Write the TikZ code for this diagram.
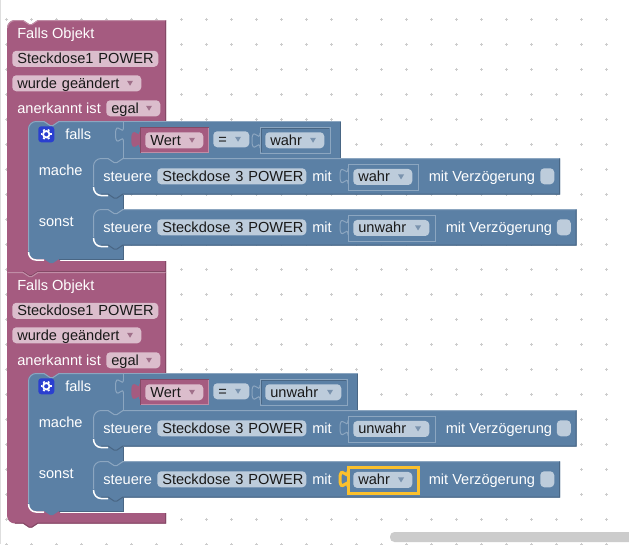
\documentclass[tikz,border=0pt]{standalone}
\usepackage{fontspec}
\setmainfont{Liberation Sans}
\definecolor{rosa}{HTML}{A55B80}
\definecolor{rosaHell}{HTML}{C08DA6}
\definecolor{rosaDunkel}{HTML}{844966}
\definecolor{rosaFeld}{HTML}{DBBDCC}
\definecolor{rosaPfeil}{HTML}{A0708A}
\definecolor{blau}{HTML}{5B80A5}
\definecolor{blauHell}{HTML}{8CA6C0}
\definecolor{blauDunkel}{HTML}{496684}
\definecolor{blauFeld}{HTML}{BDCCDB}
\definecolor{blauPfeil}{HTML}{7A93AE}
\definecolor{gelb}{HTML}{FBC02D}
\definecolor{gitter}{HTML}{CCCCCC}
\definecolor{zahnrad}{HTML}{2A3FD0}
\newlength{\pxu}
\setlength{\pxu}{0.75pt}
\tikzset{
  linie/.style={line width=\pxu},
  kreuz/.style={linie, gitter},
  wort/.style={anchor=base west, inner sep=0pt, text=white, font=\fontsize{10.95pt}{12pt}\selectfont},
  feld/.style={anchor=north west, inner xsep=5\pxu, inner ysep=\pxu,
    rounded corners=4\pxu, align=left, text=black!90,
    text height=9pt, text depth=1.5pt, font=\fontsize{10.95pt}{12pt}\selectfont},
  feldRosa/.style={feld, fill=rosaFeld},
  feldBlau/.style={feld, fill=blauFeld},
  haken/.style={anchor=north west, fill=blauFeld, rounded corners=4\pxu, inner sep=0pt,
    minimum width=14\pxu, minimum height=16\pxu},
  schlitz/.style={draw=blauHell, linie},
  schlitzGelb/.style={draw=gelb, line width=3\pxu},
  lasche/.pic={
    \path[pic actions] (0,0) .. controls (0,10) and (-8,-8) .. (-8,7.5)
      .. controls (-8,23) and (0,5) .. (0,15);
  },
}
% feld mit breite, optional mit pfeil
\newcommand{\feldNode}[6]{%
  \pgfmathsetlengthmacro{\feldBreite}{(#5-10)*\pxu}%
  \node[#1, text width=\feldBreite] (#2) at (#3,#4) {\mbox{#6}};%
}
\newcommand{\pfeilAn}[2]{%
  \fill[#2] ([xshift=-14.5\pxu,yshift=2.5\pxu]#1.east) -- ++(6,0) -- ++(-3,5) -- cycle;%
}
% steuere-block: name, y, rechts, schlitz rechts, wert, schlitz-stil
\newcommand{\steuereBlock}[6]{%
  \fill[blau] (93,#2+8) .. controls (93,#2+3.6) and (96.6,#2) .. (101,#2) -- (108,#2)
    -- (114,#2+4) -- (117,#2+4) -- (123,#2) -- (#3,#2) -- (#3,#2+36.5) -- (123,#2+36.5)
    -- (117,#2+40.5) -- (114,#2+40.5) -- (108,#2+36.5) -- (101,#2+36.5)
    .. controls (96.6,#2+36.5) and (93,#2+32.9) .. (93,#2+28.5) -- cycle;
  \draw[linie, blauHell] (93.5,#2+28) -- (93.5,#2+8) .. controls (93.5,#2+4) and (97,#2+.5) .. (101,#2+.5)
    -- (108,#2+.5) -- (114,#2+4.5) -- (117,#2+4.5) -- (123,#2+.5) -- (#3-.5,#2+.5);
  \draw[linie, blauDunkel] (#3-.5,#2+.5) -- (#3-.5,#2+36) -- (123,#2+36)
    -- (117,#2+40) -- (114,#2+40) -- (108,#2+36) -- (101,#2+36);
  \draw[white, line width=1.5\pxu] (93.5,#2+29) .. controls (93.5,#2+34) and (97,#2+37.5) .. (101,#2+37.5) -- (108,#2+37.5);
  \node[wort] (#1wort) at (103,#2+23.5) {steuere};
  \feldNode{feldBlau}{#1objekt}{157}{#2+10}{149}{Steckdose 3 POWER}
  \node[wort] (#1mit) at (312,#2+23.5) {mit};
  \draw[#6] (348,#2+6) rectangle (#4,#2+32);
  \pic[#6] at (348,#2+10.5) {lasche};
  \feldNode{feldBlau}{#1wert}{353}{#2+10.7}{#4-359}{#5}
  \pfeilAn{#1wert}{blauPfeil}
  \node[wort] (#1verz) at (#4+10.5,#2+23.5) {mit Verzögerung};
  \node[haken] (#1haken) at (#3-20,#2+10) {};
}
% innenleben eines falls-objekt-blocks: name, oben, wert, schlitz rechts
\newcommand{\objektInhalt}[4]{%
  \begin{scope}[shift={(0,#2)}, name prefix=#1-]
    \node[wort] (titel) at (17,38) {Falls Objekt};
    \feldNode{feldRosa}{objekt}{12}{50.5}{146}{Steckdose1 POWER}
    \feldNode{feldRosa}{ereignis}{12}{75}{129}{wurde geändert}
    \pfeilAn{ereignis}{rosaPfeil}
    \node[wort] (anerkannt) at (17,113) {anerkannt ist};
    \feldNode{feldRosa}{egal}{106}{100}{54}{egal}
    \pfeilAn{egal}{rosaPfeil}
    % falls-spalte
    \fill[blau] (28,129) .. controls (28,124.6) and (31.6,121) .. (36,121) -- (44,121) -- (50,125) -- (53,125)
      -- (59,121) -- (123,121) -- (123,259) -- (59,259) -- (53,263) -- (50,263) -- (44,259) -- (36,259)
      .. controls (31.6,259) and (28,255.4) .. (28,251) -- cycle;
    \draw[white, line width=1.5\pxu] (28.5,252) .. controls (28.5,256.5) and (31.6,260) .. (36,260) -- (44,260);
    \draw[linie, blauDunkel] (123.5,194.5) -- (123.5,259) -- (59,259);
    \draw[linie, blauHell] (28.5,251) -- (28.5,129) .. controls (28.5,125) and (32,121.5) .. (36,121.5) -- (44,121.5)
      -- (50,125.5) -- (53,125.5) -- (59,121.5) -- (123,121.5);
    \node[anchor=north west, fill=zahnrad, rounded corners=3\pxu, inner sep=0pt,
      minimum width=16\pxu, minimum height=16\pxu] (zahnrad) at (38,126) {};
    \draw[white, line width=1.8\pxu] (zahnrad.center) circle[radius=3.2];
    \foreach \winkel in {0,60,...,300}
      \draw[white, line width=2\pxu] ([shift={(\winkel:4\pxu)}]zahnrad.center) -- ([shift={(\winkel:5.5\pxu)}]zahnrad.center);
    \node[wort] (falls) at (65,139) {falls};
    \node[wort] (mache) at (38.5,175) {mache};
    \node[wort] (sonst) at (38.5,226) {sonst};
    % vergleich
    \fill[blau] (123,121) rectangle (#4+11,158);
    \draw[linie, blauHell] (123,121.5) -- (#4+10.5,121.5);
    \draw[linie, blauDunkel] (#4+10.5,121.5) -- (#4+10.5,158);
    \draw[linie, blauHell] (123.5,121) -- (123.5,127) (123.5,142) -- (123.5,158);
    \pic[schlitz] at (123.5,127) {lasche};
    \fill[rosa] (140,127) rectangle (209,153);
    \pic[fill=rosa, draw=rosa, line width=1.5\pxu] at (140,132) {lasche};
    \draw[linie, rosaDunkel] (140.5,153) -- (140.5,127.5) -- (208.5,127.5);
    \draw[linie, rosaHell] (208.5,127.5) -- (208.5,152.5) -- (140.5,152.5);
    \feldNode{feldRosa}{wert}{145}{132}{58}{Wert}
    \pfeilAn{wert}{rosaPfeil}
    \feldNode{feldBlau}{gleich}{213}{131}{36}{=}
    \pfeilAn{gleich}{blauPfeil}
    \draw[schlitz] (260,127) rectangle (#4,153);
    \draw[linie, blauDunkel] (261,152) -- (261,128) -- (#4-1,128);
    \pic[schlitz] at (260,133) {lasche};
    \feldNode{feldBlau}{wahrheit}{265}{132}{#4-271}{#3}
    \pfeilAn{wahrheit}{blauPfeil}
  \end{scope}
}

\begin{document}
\begin{tikzpicture}[x=\pxu, y=-\pxu]
  \useasboundingbox (0,0) rectangle (629,544);
  \fill[white] (0,0) rectangle (629,544);
  \foreach \px in {6.5,31.5,...,629}
    \foreach \py in {19.3,44.3,...,546}
      \draw[kreuz] (\px-1.5,\py) -- (\px+1.5,\py) (\px,\py-1.5) -- (\px,\py+1.5);
  \draw[linie, black!13] (0.5,0) -- (0.5,544);
  \fill[gitter, rounded corners=4.5\pxu] (390,532) rectangle (650,542);

  % erster block
  \fill[rosa] (7,272) -- (7,28) .. controls (7,23.6) and (10.6,20) .. (15,20) -- (23,20) -- (29,24) -- (32,24)
    -- (38,20) -- (166,20) -- (166,121) -- (70,121) -- (70,240) -- (60,240) -- (60,261) -- (166,261) -- (166,272)
    -- (38,272) -- (32,276) -- (29,276) -- (23,272) -- cycle;
  \draw[linie, rosaHell] (7.5,28) .. controls (7.5,24) and (11,20.5) .. (15,20.5) -- (23,20.5) -- (29,24.5) -- (32,24.5) -- (38,20.5) -- (166,20.5);
  \draw[linie, rosaDunkel] (165.5,20.5) -- (165.5,121) (165.5,261) -- (165.5,271.5) -- (38,271.5) -- (32,275.5) -- (29,275.5) -- (23,271.5);
  \objektInhalt{a}{0}{wahr}{330}
  \steuereBlock{a1}{158}{560}{418}{wahr}{schlitz}
  \steuereBlock{a2}{209}{576.5}{435}{unwahr}{schlitz}

  % zweiter block
  \fill[rosa] (7,272) -- (23,272) -- (29,276) -- (32,276) -- (38,272) -- (166,272) -- (166,373) -- (70,373)
    -- (70,492) -- (60,492) -- (60,513) -- (166,513) -- (166,523.5) -- (38,523.5) -- (32,527.5) -- (29,527.5)
    -- (23,523.5) -- (15,523.5) .. controls (10.6,523.5) and (7,519.9) .. (7,515.5) -- cycle;
  \draw[linie, rosaHell] (7.5,272.5) -- (23,272.5) -- (29,276.5) -- (32,276.5) -- (38,272.5) -- (166,272.5);
  \draw[linie, rosaDunkel] (165.5,272.5) -- (165.5,373) (165.5,513) -- (165.5,523) -- (38,523) -- (32,527) -- (29,527) -- (23,523) -- (15,523);
  \objektInhalt{b}{252}{unwahr}{347}
  \steuereBlock{b1}{410}{576.5}{435}{unwahr}{schlitz}
  \steuereBlock{b2}{461}{560}{418}{wahr}{schlitzGelb}
\end{tikzpicture}
\end{document}
